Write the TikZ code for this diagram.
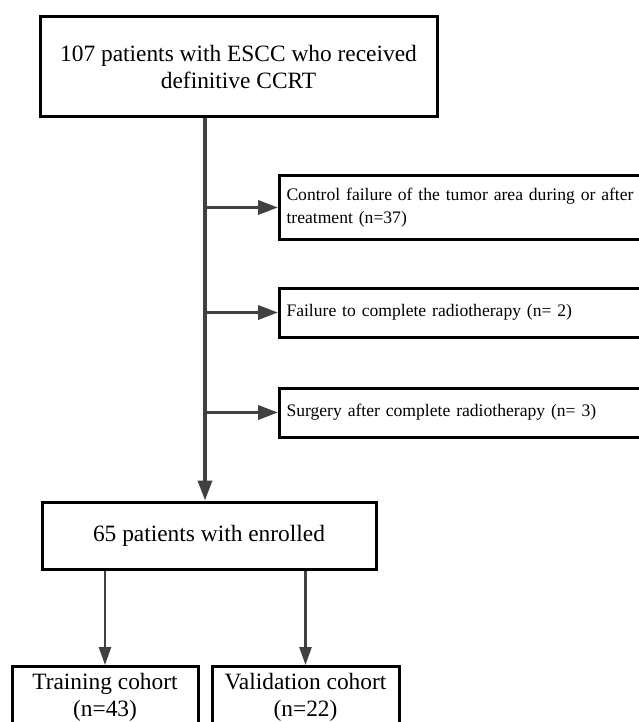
\documentclass[tikz,border=0pt]{standalone}
\usepackage{fontspec}
\setmainfont{Liberation Serif}
\usetikzlibrary{arrows.meta}
\definecolor{arrowgray}{HTML}{404040}
\begin{document}
\begin{tikzpicture}[x=1pt,y=-1pt,
  bigbox/.style={draw=black,line width=3pt,align=center,inner sep=0pt,
    font=\fontsize{23.4}{27}\selectfont},
  sidebox/.style={draw=black,line width=3pt,anchor=west,align=left,
    inner xsep=7pt,inner ysep=0pt,minimum width=420pt,text width=406pt,
    font=\fontsize{17.6}{23}\selectfont},
  cohortbox/.style={draw=black,line width=3pt,anchor=north,align=center,
    inner xsep=0pt,inner ysep=7pt,minimum width=186pt,minimum height=90pt,
    text depth=50pt,font=\fontsize{23.4}{27}\selectfont},
  trunk/.style={draw=arrowgray,line width=3.5pt,-{Triangle[length=20pt,width=14pt]}},
  branch/.style={draw=arrowgray,line width=3.5pt,-{Triangle[length=20pt,width=14pt]}},
  split/.style={draw=arrowgray,line width=2.5pt,-{Triangle[length=18pt,width=12pt]}}]
\useasboundingbox (0,0) rectangle (639,722);
\clip (0,0) rectangle (639,722);
\fill[white] (0,0) rectangle (639,722);
\node[bigbox,minimum width=397pt,minimum height=100pt] (top) at (238.5,67)
  {107 patients with ESCC who received\\definitive CCRT};
\node[bigbox,minimum width=334pt,minimum height=67pt] (enr) at (209,535.5)
  {65 patients with enrolled};
\node[sidebox,minimum height=63pt] (s1) at (278,207.5)
  {Control failure of the tumor area during or after\\treatment (n=37)};
\node[sidebox,minimum height=49pt] (s2) at (278,312.5)
  {Failure to complete radiotherapy (n= 2)};
\node[sidebox,minimum height=49pt] (s3) at (278,412.5)
  {Surgery after complete radiotherapy (n= 3)};
\node[cohortbox] (tr) at (105,665) {Training cohort\\(n=43)};
\node[cohortbox,minimum width=187pt] (va) at (305.5,665) {Validation cohort\\(n=22)};
\coordinate (t) at (205,117);
\draw[trunk] (top.south -| t) -- (enr.north -| t);
\draw[branch] (t |- s1.west) -- (s1.west);
\draw[branch] (t |- s2.west) -- (s2.west);
\draw[branch] (t |- s3.west) -- (s3.west);
\draw[split] (enr.south -| tr.north) -- (tr.north);
\draw[split] (enr.south -| va.north) -- (va.north);
\end{tikzpicture}
\end{document}
